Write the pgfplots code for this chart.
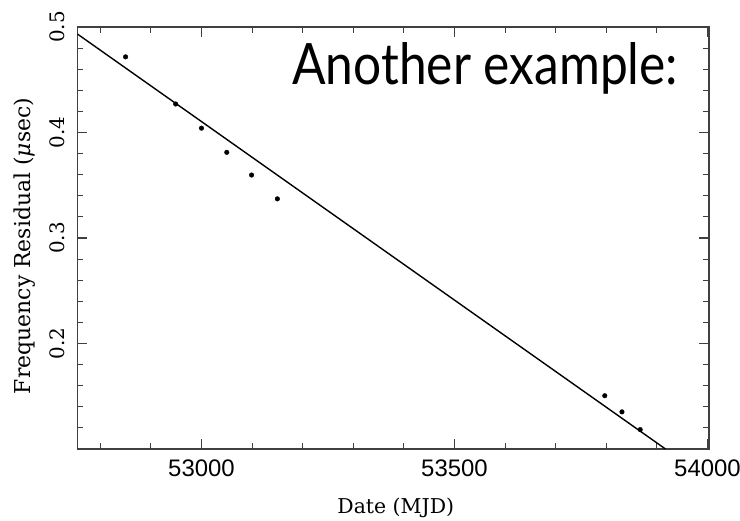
\documentclass[border=0pt]{standalone}
\usepackage{pgfplots}
\pgfplotsset{compat=1.18}
\usepackage{fontspec}
\newfontfamily\axsans{Liberation Sans}
\newfontfamily\axserif{DejaVu Serif}
\newfontfamily\handfont{Lato}
\begin{document}
\begin{tikzpicture}
\begin{axis}[
 scale only axis, width=631.5bp, height=422bp,
 xmin=52755, xmax=54003, ymin=0.1, ymax=0.5,
 scaled x ticks=false, scaled y ticks=false,
 axis line style={draw=black!75, line width=1.1bp},
 xtick={53000,53500,54000}, xticklabels={53000,53500,54000},
 minor xtick={52800,52900,53100,53200,53300,53400,53600,53700,53800,53900},
 ytick={0.2,0.3,0.4,0.5}, yticklabels={0.2,0.3,0.4,0.5},
 minor ytick={0.12,0.14,0.16,0.18,0.22,0.24,0.26,0.28,0.32,0.34,0.36,0.38,0.42,0.44,0.46,0.48},
 tick align=inside, major tick length=10bp, minor tick length=6bp,
 every tick/.style={draw=black!75, line width=1.1bp},
 xticklabel style={font=\axsans\fontsize{24}{24}\selectfont, anchor=north, inner sep=0pt},
 xticklabel shift=11bp,
 yticklabel style={font=\axserif\fontsize{20}{20}\selectfont, rotate=90, anchor=center, inner sep=0pt},
 yticklabel shift=20bp,
 xlabel={Date (MJD)}, ylabel={Frequency Residual ({\itshape μ}sec)},
 xlabel style={at={(axis description cs:0.504,-0.14)}, anchor=center, font=\axserif\fontsize{20.5}{20.5}\selectfont},
 ylabel style={at={(axis description cs:-0.083,0.481)}, anchor=center, font=\axserif\fontsize{22}{22}\selectfont},
]
\addplot[black, line width=1.4bp] coordinates {(52755,0.4933) (53917,0.1)};
\addplot[only marks, mark=*, mark size=2.3bp, black] coordinates {
(52850,0.4717) (52949,0.4270) (53000,0.4041) (53050,0.3812) (53099,0.3597)
(53150,0.3371) (53797,0.1505) (53831,0.1352) (53867,0.1184)};
\node[anchor=base west, inner sep=0pt] at (axis description cs:0.3397,0.8626) {\resizebox{386bp}{42bp}{\handfont Another example:}};
\end{axis}
\pgfresetboundingbox
\path (-77.5bp,-72bp) rectangle (662.5bp,449bp);
\end{tikzpicture}
\end{document}
